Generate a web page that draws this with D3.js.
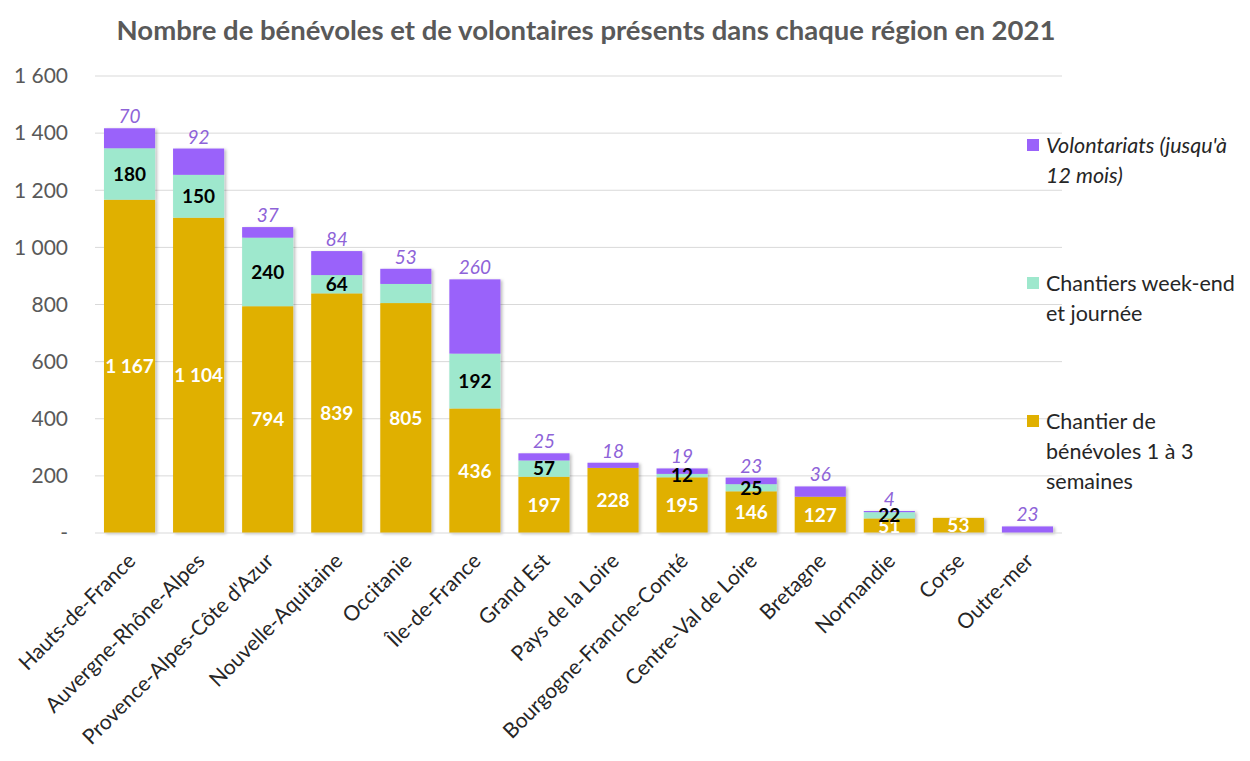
<!DOCTYPE html>
<html>
<head>
<meta charset="utf-8">
<script src="https://d3js.org/d3.v7.min.js"></script>
<style>
body {
  margin: 0;
  background: white;
  font-family: Lato, "Open Sans", sans-serif;
}
</style>
<title>Bénévoles et volontaires 2021</title>
</head>
<body>
<div id="chart"></div>
<script>
// regions and the three stacked series
const regions = ["Hauts-de-France", "Auvergne-Rhône-Alpes", "Provence-Alpes-Côte d'Azur",
  "Nouvelle-Aquitaine", "Occitanie", "Île-de-France", "Grand Est", "Pays de la Loire",
  "Bourgogne-Franche-Comté", "Centre-Val de Loire", "Bretagne", "Normandie", "Corse", "Outre-mer"];
const chantiers = [1167, 1104, 794, 839, 805, 436, 197, 228, 195, 146, 127, 51, 53, 0];
const weekend = [180, 150, 240, 64, 67, 192, 57, 0, 12, 25, 0, 22, 0, 0];
const volontariats = [70, 92, 37, 84, 53, 260, 25, 18, 19, 23, 36, 4, 0, 23];
// the week-end value of Occitanie has no label in the original
const weekendLabelled = [true, true, true, true, false, true, true, true, true, true, true, true, true, true];
const yTicks = [0, 200, 400, 600, 800, 1000, 1200, 1400, 1600];
const legendItems = [
  {key: "volontariats", lines: ["Volontariats (jusqu'à", "12 mois)"]},
  {key: "weekend", lines: ["Chantiers week-end", "et journée"]},
  {key: "chantiers", lines: ["Chantier de", "bénévoles 1 à 3", "semaines"]}
];

const colors = {chantiers: "#e0b000", weekend: "#9ee8cd", volontariats: "#9a62fa"};

const width = 1250;
const height = 761;
const marginTop = 76;
const marginBottom = 228;
const marginLeft = 95;
const plotRight = 1062;

const x = d3.scaleBand()
  .domain(regions)
  .range([marginLeft, plotRight])
  .paddingInner(0.26)
  .paddingOuter(0.13);

const y = d3.scaleLinear()
  .domain([0, 1600])
  .range([height - marginBottom, marginTop]);

const fr = d3.formatLocale({decimal: ",", thousands: " ", grouping: [3], currency: ["", " €"]});
const fmt = fr.format(",d");

const svg = d3.create("svg")
  .attr("width", width)
  .attr("height", height)
  .attr("viewBox", [0, 0, width, height]);

const defs = svg.append("defs");
const shadow = defs.append("filter").attr("id", "shadow")
  .attr("x", "-20%").attr("y", "-20%").attr("width", "140%").attr("height", "140%");
shadow.append("feDropShadow")
  .attr("dx", 2).attr("dy", 1).attr("stdDeviation", 1.5)
  .attr("flood-color", "#000").attr("flood-opacity", 0.25);

// title
svg.append("text")
  .attr("x", 586)
  .attr("y", 40)
  .attr("text-anchor", "middle")
  .attr("font-size", 27.5)
  .attr("font-weight", "bold")
  .attr("fill", "#595959")
  .text("Nombre de bénévoles et de volontaires présents dans chaque région en 2021");

// gridlines + y labels
svg.append("g")
  .selectAll("line")
  .data(yTicks.filter(d => d > 0))
  .join("line")
    .attr("x1", marginLeft)
    .attr("x2", plotRight)
    .attr("y1", d => y(d))
    .attr("y2", d => y(d))
    .attr("stroke", "#d9d9d9")
    .attr("stroke-width", 1);

svg.append("g")
  .selectAll("text")
  .data(yTicks)
  .join("text")
    .attr("x", 68)
    .attr("y", d => y(d))
    .attr("dy", "0.35em")
    .attr("text-anchor", "end")
    .attr("font-size", 21)
    .attr("fill", "#595959")
    .text(d => d === 0 ? "-" : fmt(d));

// stacked data
const table = regions.map((r, i) => ({
  region: r,
  chantiers: chantiers[i],
  weekend: weekend[i],
  volontariats: volontariats[i],
  labelled: weekendLabelled[i]
}));
const keys = ["chantiers", "weekend", "volontariats"];
const series = d3.stack().keys(keys)(table);

const bars = svg.append("g").attr("filter", "url(#shadow)");
bars.selectAll("g")
  .data(series)
  .join("g")
    .attr("fill", s => colors[s.key])
  .selectAll("rect")
  .data(s => s)
  .join("rect")
    .attr("x", d => x(d.data.region))
    .attr("width", x.bandwidth())
    .attr("y", d => y(d[1]))
    .attr("height", d => y(d[0]) - y(d[1]));

// axis line
svg.append("line")
  .attr("x1", marginLeft)
  .attr("x2", plotRight)
  .attr("y1", y(0))
  .attr("y2", y(0))
  .attr("stroke", "#d9d9d9");

const labels = svg.append("g")
  .attr("text-anchor", "middle")
  .attr("font-size", 19);

// chantier labels (white, bold)
labels.selectAll(".lc")
  .data(series[0].filter(d => d.data.chantiers > 0))
  .join("text")
    .attr("class", "lc")
    .attr("x", d => x(d.data.region) + x.bandwidth() / 2)
    .attr("y", d => (y(d[0]) + y(d[1])) / 2)
    .attr("dy", "0.36em")
    .attr("font-weight", "bold")
    .attr("fill", "white")
    .text(d => fmt(d.data.chantiers));

// week-end labels (black, bold)
labels.selectAll(".lw")
  .data(series[1].filter(d => d.data.weekend > 0 && d.data.labelled))
  .join("text")
    .attr("class", "lw")
    .attr("x", d => x(d.data.region) + x.bandwidth() / 2)
    .attr("y", d => (y(d[0]) + y(d[1])) / 2)
    .attr("dy", "0.36em")
    .attr("font-weight", "bold")
    .attr("fill", "black")
    .text(d => fmt(d.data.weekend));

// volontariat labels (purple, italic, above the bar)
labels.selectAll(".lv")
  .data(series[2].filter(d => d.data.volontariats > 0))
  .join("text")
    .attr("class", "lv")
    .attr("x", d => x(d.data.region) + x.bandwidth() / 2)
    .attr("y", d => y(d[1]) - 5)
    .attr("font-style", "italic")
    .attr("fill", "#8e63d8")
    .text(d => fmt(d.data.volontariats));

// x labels rotated
svg.append("g")
  .selectAll("text")
  .data(regions)
  .join("text")
    .attr("transform", d => `translate(${x(d) + x.bandwidth() / 2 + 2},${y(0) + 24}) rotate(-45)`)
    .attr("text-anchor", "end")
    .attr("dy", "0.35em")
    .attr("font-size", 21)
    .attr("fill", "#262626")
    .text(d => d);

// legend
const legendY = [145, 283, 421];
const legend = svg.append("g");
legendItems.forEach((item, i) => {
  const g = legend.append("g").attr("transform", `translate(1027,${legendY[i]})`);
  g.append("rect")
    .attr("x", 0)
    .attr("y", -6)
    .attr("width", 12)
    .attr("height", 12)
    .attr("fill", colors[item.key]);
  g.append("text")
    .attr("x", 19)
    .attr("font-size", 21.5)
    .attr("fill", "#262626")
    .attr("font-style", item.key === "volontariats" ? "italic" : "normal")
    .selectAll("tspan")
    .data(item.lines)
    .join("tspan")
      .attr("x", 19)
      .attr("y", (d, j) => j * 30)
      .attr("dy", "0.35em")
      .text(d => d);
});

document.getElementById("chart").appendChild(svg.node());
</script>
</body>
</html>
